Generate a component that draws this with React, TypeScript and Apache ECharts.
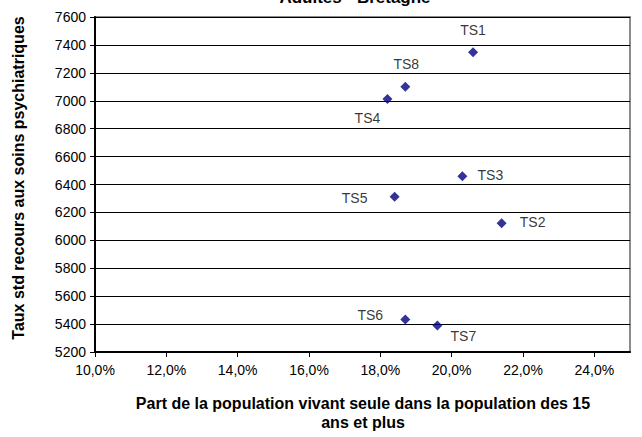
import React, { useEffect, useRef } from "react";
import * as echarts from "echarts";

const categories = ["TS1", "TS2", "TS3", "TS4", "TS5", "TS6", "TS7", "TS8"];
const partSeule = [20.6, 21.4, 20.3, 18.2, 18.4, 18.7, 19.6, 18.7];
const tauxStd = [7347, 6122, 6459, 7013, 6313, 5432, 5389, 7101];
const xTicks = [10, 12, 14, 16, 18, 20, 22, 24];
const yMin = 5200;
const yMax = 7600;
const yStep = 200;

const chartTitle = "Adultes - Bretagne";
const xTitle = "Part de la population vivant seule dans la population des 15\nans et plus";
const yTitle = "Taux std recours aux soins psychiatriques";

// label placement (style only)
const labelOffsets: Record<string, [number, number]> = {
  TS1: [0, -22],
  TS2: [31, -1],
  TS3: [28, -1],
  TS4: [-20, 19],
  TS5: [-40, 1],
  TS6: [-35, -5],
  TS7: [26, 10],
  TS8: [1, -23],
};

const FONT = "'Liberation Sans', Arial, sans-serif";

export default function App() {
  const ref = useRef<HTMLDivElement>(null);
  useEffect(() => {
    if (!ref.current) return;
    const chart = echarts.init(ref.current, null, { renderer: "svg" });
    const data = categories.map((c, i) => ({
      name: c,
      value: [partSeule[i], tauxStd[i]],
      label: { offset: labelOffsets[c] },
    }));
    chart.setOption({
      animation: false,
      backgroundColor: "#fff",
      textStyle: { fontFamily: FONT },
      grid: {
        left: 95,
        right: 12,
        top: 17,
        bottom: 85,
        show: true,
        borderColor: "#8c8c8c",
        borderWidth: 2,
        backgroundColor: "transparent",
      },
      xAxis: {
        type: "value",
        min: 10,
        max: 25,
        interval: 2,
        axisLine: { show: true, onZero: false, lineStyle: { color: "#000", width: 2 } },
        axisTick: { show: true, length: 5, customValues: xTicks, lineStyle: { color: "#000" } },
        axisLabel: {
          customValues: xTicks,
          margin: 11,
          color: "#000",
          fontSize: 14,
          fontFamily: FONT,
          formatter: (v: number) => v.toFixed(1).replace(".", ",") + "%",
        },
        splitLine: { show: false },
      },
      yAxis: {
        type: "value",
        min: yMin,
        max: yMax,
        interval: yStep,
        axisLine: { show: true, onZero: false, lineStyle: { color: "#000", width: 2 } },
        axisTick: { show: true, length: 5, lineStyle: { color: "#000" } },
        axisLabel: {
          margin: 9,
          color: "#000",
          fontSize: 14,
          fontFamily: FONT,
          formatter: (v: number) => String(v),
        },
        splitLine: { show: true, lineStyle: { color: "#000", width: 1 } },
      },
      graphic: [
        {
          type: "text",
          x: 355,
          y: 6,
          style: {
            text: chartTitle,
            align: "center",
            verticalAlign: "bottom",
            font: `bold 17px ${FONT}`,
            fill: "#000",
          },
        },
        {
          type: "text",
          x: 363,
          y: 413,
          style: {
            text: xTitle,
            align: "center",
            verticalAlign: "middle",
            font: `bold 16px ${FONT}`,
            lineHeight: 19,
            fill: "#000",
          },
        },
        {
          type: "text",
          x: 18,
          y: 178,
          rotation: Math.PI / 2,
          style: {
            text: yTitle,
            align: "center",
            verticalAlign: "middle",
            font: `bold 16px ${FONT}`,
            fill: "#000",
          },
        },
      ],
      series: [
        {
          type: "scatter",
          symbol: "diamond",
          symbolSize: 10,
          itemStyle: { color: "#000080" },
          data,
          label: {
            show: true,
            position: "inside",
            formatter: "{b}",
            color: "#000",
            fontSize: 14,
            fontFamily: FONT,
          },
          emphasis: { disabled: true },
        },
      ],
    });
    return () => chart.dispose();
  }, []);
  return <div ref={ref} style={{ width: 642, height: 437, position: "absolute", left: 0, top: 0 }} />;
}
